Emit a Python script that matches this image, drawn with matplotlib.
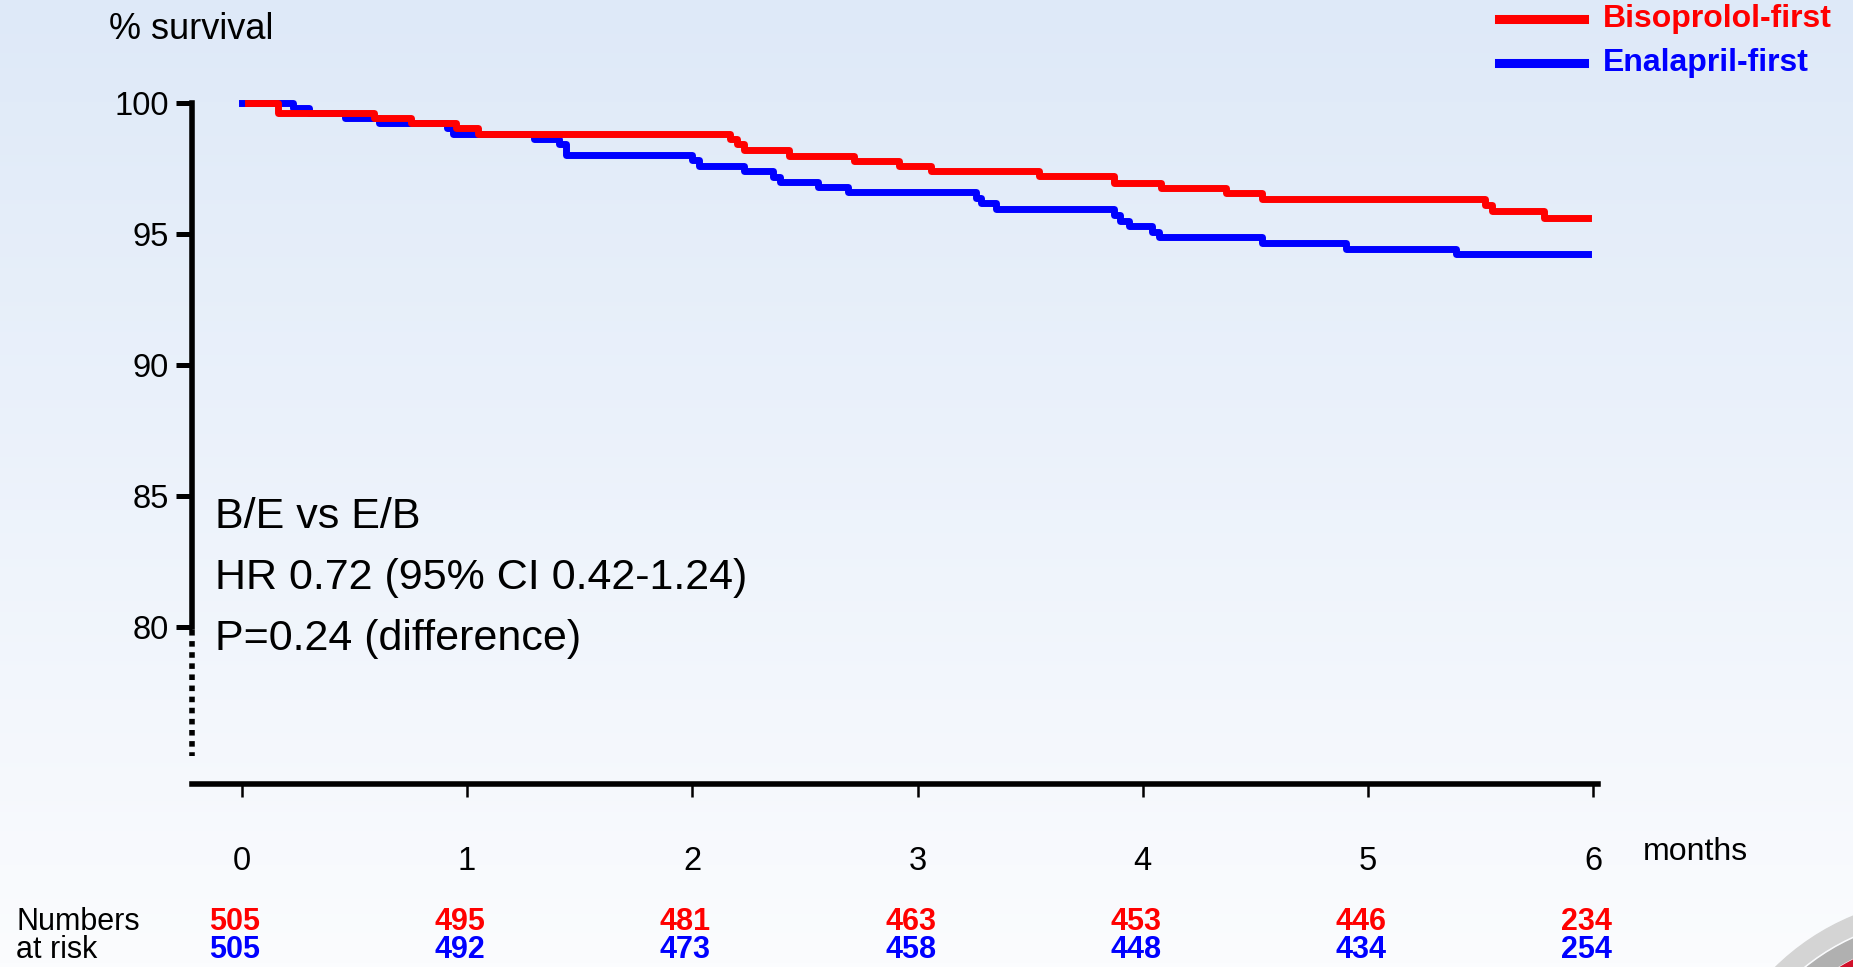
import numpy as np
import matplotlib
matplotlib.use("Agg")
from matplotlib import pyplot as plt
from matplotlib import transforms
from matplotlib.patches import Wedge

# Kaplan-Meier steps (months, % survival)
bisoTime = [0.03, 0.16, 0.59, 0.75, 0.95, 1.05, 2.17, 2.20, 2.23, 2.43, 2.72, 2.92, 3.06,
            3.54, 3.87, 4.08, 4.37, 4.53, 5.52, 5.55, 5.78, 5.975]
bisoSurv = [100, 99.63, 99.44, 99.24, 99.04, 98.83, 98.63, 98.43, 98.21, 97.97, 97.80, 97.59, 97.39,
            97.20, 96.96, 96.75, 96.55, 96.33, 96.12, 95.89, 95.63, 95.63]

enalTime = [0.0, 0.23, 0.30, 0.46, 0.61, 0.91, 0.94, 1.30, 1.41, 1.44, 2.00, 2.03, 2.23, 2.36,
            2.39, 2.56, 2.69, 3.26, 3.28, 3.35, 3.87, 3.90, 3.94, 4.04, 4.07, 4.53, 4.90, 5.39, 5.975]
enalSurv = [100, 99.82, 99.63, 99.44, 99.24, 99.04, 98.83, 98.63, 98.43, 98.02, 97.82, 97.60, 97.39, 97.19,
            96.98, 96.78, 96.59, 96.37, 96.17, 95.95, 95.73, 95.52, 95.31, 95.10, 94.88, 94.68, 94.45, 94.23, 94.23]

months = [0, 1, 2, 3, 4, 5, 6]
yTicks = [80, 85, 90, 95, 100]
riskBiso = [505, 495, 481, 463, 453, 446, 234]
riskEnal = [505, 492, 473, 458, 448, 434, 254]

groups = ["Bisoprolol-first", "Enalapril-first"]
annot = ["B/E vs E/B", "HR 0.72 (95% CI 0.42-1.24)", "P=0.24 (difference)"]

RED = "#ff0000"
BLUE = "#0000ff"

plt.rcParams["font.family"] = ["Liberation Sans", "DejaVu Sans"]

W, H = 1853, 967
fig = plt.figure(figsize=(W / 100, H / 100), dpi=100)

# background gradient + corner logo, in pixel coords
bg = fig.add_axes([0, 0, 1, 1])
top = np.array([222, 233, 248]) / 255
bot = np.array([251, 252, 254]) / 255
g = np.linspace(0, 1, 256)[:, None, None]
grad = np.repeat(top * (1 - g) + bot * g, 2, axis=1)
bg.imshow(grad, extent=(0, W, H, 0), aspect="auto")
bg.set_xlim(0, W)
bg.set_ylim(H, 0)
bg.axis("off")
cx, cy = 1945, 1140
bg.add_patch(Wedge((cx, cy), 242, 0, 360, width=18, color="#d4d4d4"))
bg.add_patch(Wedge((cx, cy), 221, 0, 360, width=17, color="#b0b0b0"))
bg.add_patch(Wedge((cx, cy), 202, 0, 360, color="#d0102a"))

# main axes
left, right = 191.5, 1598
ybot, ytop = 783.5, 76.8
ax = fig.add_axes([left / W, 1 - ybot / H, (right - left) / W, (ybot - ytop) / H])
ax.patch.set_alpha(0)
ax.set_xlim(-0.222, 6.02)
ax.set_ylim(74.05, 101)

ax.step(enalTime, enalSurv, where="post", color=BLUE, lw=5, zorder=3)
ax.step(bisoTime, bisoSurv, where="post", color=RED, lw=5, zorder=4)

for s in ["top", "right"]:
    ax.spines[s].set_visible(False)
ax.spines["left"].set_bounds(80, 100)
ax.spines["left"].set_linewidth(4)
ax.spines["bottom"].set_linewidth(4)
ax.plot([-0.222, -0.222], [79.9, 75.1], color="black", lw=4, ls=(0, (1, 1)),
        clip_on=False, zorder=5)

ax.set_yticks(yTicks)
ax.set_yticklabels([str(v) for v in yTicks], fontsize=23.5)
ax.tick_params(axis="y", direction="out", length=11.5, width=3.6, pad=5)
ax.set_xticks(months)
ax.set_xticklabels([str(m) for m in months], fontsize=23.5)
ax.tick_params(axis="x", direction="out", length=9, width=1.8, pad=36)

fig.text(1643 / W, 1 - 852 / H, "months", fontsize=23, va="center", ha="left")
fig.text(109 / W, 1 - 29.5 / H, "% survival", fontsize=26, va="center", ha="left")

for i, line in enumerate(annot):
    fig.text(215 / W, 1 - (516.5 + 61.3 * i) / H, line, fontsize=31, va="center", ha="left")

# legend
for i, (name, col) in enumerate(zip(groups, [RED, BLUE])):
    yy = 1 - (19 + 43.6 * i) / H
    fig.add_artist(plt.Line2D([1498.5 / W, 1583.6 / W], [yy, yy], color=col, lw=6.5))
    fig.text(1602.5 / W, yy, name, fontsize=23, color=col, fontweight="bold",
             va="center", ha="left")

# numbers at risk
fig.text(16.5 / W, 1 - 922 / H, "Numbers", fontsize=22, va="center", ha="left")
fig.text(16.5 / W, 1 - 950 / H, "at risk", fontsize=22, va="center", ha="left")
tr = transforms.blended_transform_factory(ax.transData, fig.transFigure)
for m, rb, re_ in zip(months, riskBiso, riskEnal):
    ax.text(m - 0.03, 1 - 922 / H, str(rb), transform=tr, color=RED, fontsize=22,
            fontweight="bold", ha="center", va="center", clip_on=False)
    ax.text(m - 0.03, 1 - 950 / H, str(re_), transform=tr, color=BLUE, fontsize=22,
            fontweight="bold", ha="center", va="center", clip_on=False)

fig.savefig("out.png", dpi=100)
